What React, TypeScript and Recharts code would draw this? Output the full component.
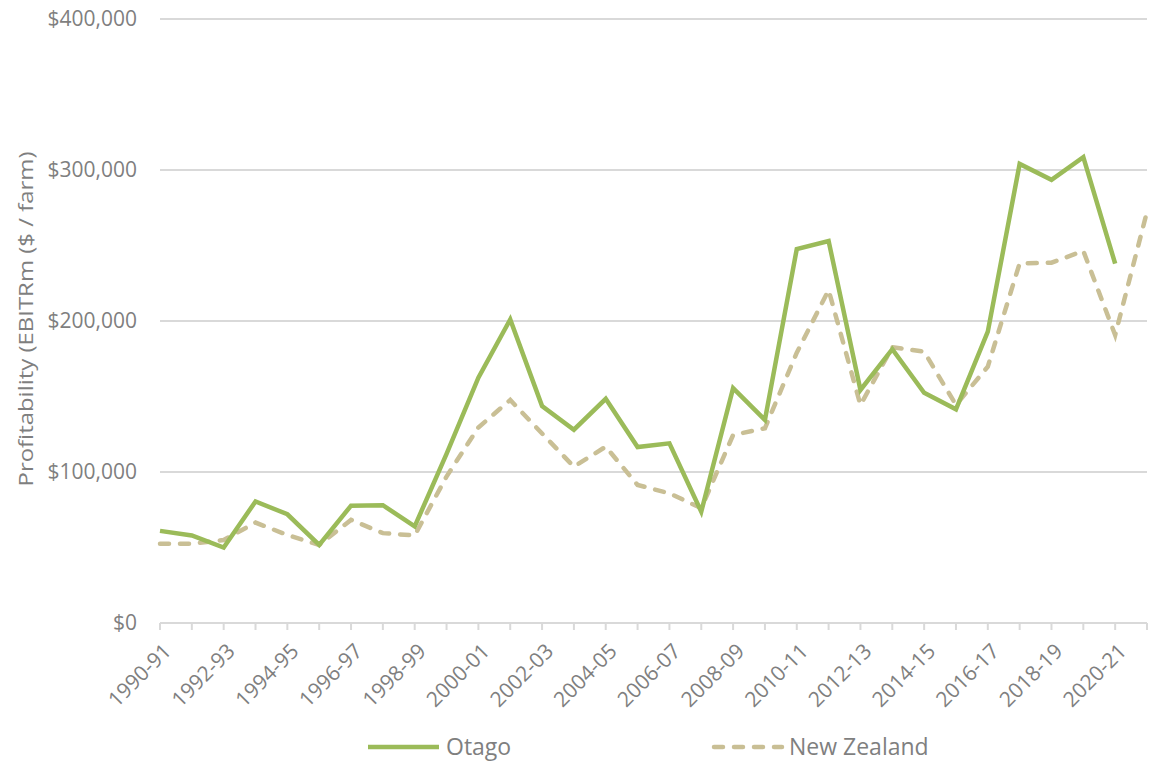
import React from "react";
import { LineChart, Line, XAxis, YAxis, CartesianGrid, Legend } from "recharts";

const years = [
  "1990-91", "1991-92", "1992-93", "1993-94", "1994-95", "1995-96", "1996-97", "1997-98",
  "1998-99", "1999-00", "2000-01", "2001-02", "2002-03", "2003-04", "2004-05", "2005-06",
  "2006-07", "2007-08", "2008-09", "2009-10", "2010-11", "2011-12", "2012-13", "2013-14",
  "2014-15", "2015-16", "2016-17", "2017-18", "2018-19", "2019-20", "2020-21", "2021-22",
];

const otago: (number | null)[] = [
  61000, 58000, 50000, 80500, 72000, 51700, 77700, 78000,
  64000, 112000, 162500, 201000, 143700, 128000, 148500, 116500,
  119000, 73700, 155500, 134500, 247700, 253000, 154300, 181300,
  152500, 141500, 193000, 304000, 293500, 308500, 238000, null,
];

const newZealand: number[] = [
  52500, 52500, 55000, 66500, 58300, 51700, 68300, 59500,
  58000, 97000, 129500, 147700, 125500, 103500, 116800, 91400,
  85900, 76000, 124500, 129000, 179000, 220500, 144400, 182600,
  179700, 144400, 169800, 238200, 238600, 246400, 190700, 272400,
];

const yTicks = [0, 100000, 200000, 300000, 400000];
const yTitle = "Profitability (EBITRm ($ / farm)";

const data = years.map((y, i) => ({ year: y, otago: otago[i], nz: newZealand[i] }));

const GREEN = "#9BBB59";
const TAN = "#C9BF95";
const TEXT = "#7F7F7F";
const FONT = "'Open Sans', sans-serif";

const fmt = (v: number) => "$" + v.toLocaleString("en-US");

const XTick = (props: any) => {
  const { x, y, payload, index } = props;
  if (index % 2 !== 0) return null;
  return (
    <g transform={`translate(${x + 2},${y + 8})`}>
      <text
        x={0}
        y={0}
        dy={15}
        textAnchor="end"
        transform="rotate(-45)"
        fill={TEXT}
        fontSize={21}
        fontFamily={FONT}
      >
        {payload.value}
      </text>
    </g>
  );
};

const YTitle = (props: any) => {
  const vb = props.viewBox || { y: 19, height: 604 };
  const cy = vb.y + vb.height / 2 - 2;
  return (
    <text
      x={0}
      y={0}
      transform={`translate(33, ${cy}) rotate(-90)`}
      textAnchor="middle"
      fill={TEXT}
      fontSize={20}
      fontFamily={FONT}
      textLength={335}
      lengthAdjust="spacingAndGlyphs"
    >
      {yTitle}
    </text>
  );
};

const LegendContent = () => (
  <svg width={1150} height={40} style={{ display: "block" }}>
    <line x1={368} y1={20} x2={439} y2={20} stroke={GREEN} strokeWidth={4.5} />
    <text x={446} y={28} fontSize={23} fontFamily={FONT} fill={TEXT}>Otago</text>
    <line
      x1={714}
      y1={20}
      x2={782}
      y2={20}
      stroke={TAN}
      strokeWidth={4.5}
      strokeDasharray="9 11"
      strokeLinecap="round"
    />
    <text x={789} y={28} fontSize={23} fontFamily={FONT} fill={TEXT}>New Zealand</text>
  </svg>
);

export default function App() {
  return (
    <div style={{ position: "absolute", left: 0, top: 0, width: 1150, height: 767, background: "#fff" }}>
      <LineChart
        width={1150}
        height={767}
        data={data}
        margin={{ top: 19, right: 3, left: 0, bottom: 0 }}
      >
        <CartesianGrid vertical={false} stroke="#D9D9D9" strokeWidth={2} />
        <XAxis
          dataKey="year"
          interval={0}
          height={104}
          tick={<XTick />}
          tickSize={7}
          tickMargin={4}
          axisLine={{ stroke: "#D9D9D9", strokeWidth: 2 }}
          tickLine={{ stroke: "#D9D9D9", strokeWidth: 2 }}
        />
        <YAxis
          width={160}
          domain={[0, 400000]}
          ticks={yTicks}
          tickFormatter={fmt}
          axisLine={false}
          tickLine={false}
          tickMargin={17}
          tick={{ fill: TEXT, fontSize: 21, fontFamily: FONT }}
          label={<YTitle />}
        />
        <Legend verticalAlign="bottom" height={40} content={<LegendContent />} />
        <Line
          type="linear"
          dataKey="nz"
          stroke={TAN}
          strokeWidth={4.5}
          strokeDasharray="9 11"
          strokeLinecap="round"
          dot={false}
          activeDot={false}
          isAnimationActive={false}
        />
        <Line
          type="linear"
          dataKey="otago"
          stroke={GREEN}
          strokeWidth={4.5}
          dot={false}
          activeDot={false}
          isAnimationActive={false}
        />
      </LineChart>
    </div>
  );
}
